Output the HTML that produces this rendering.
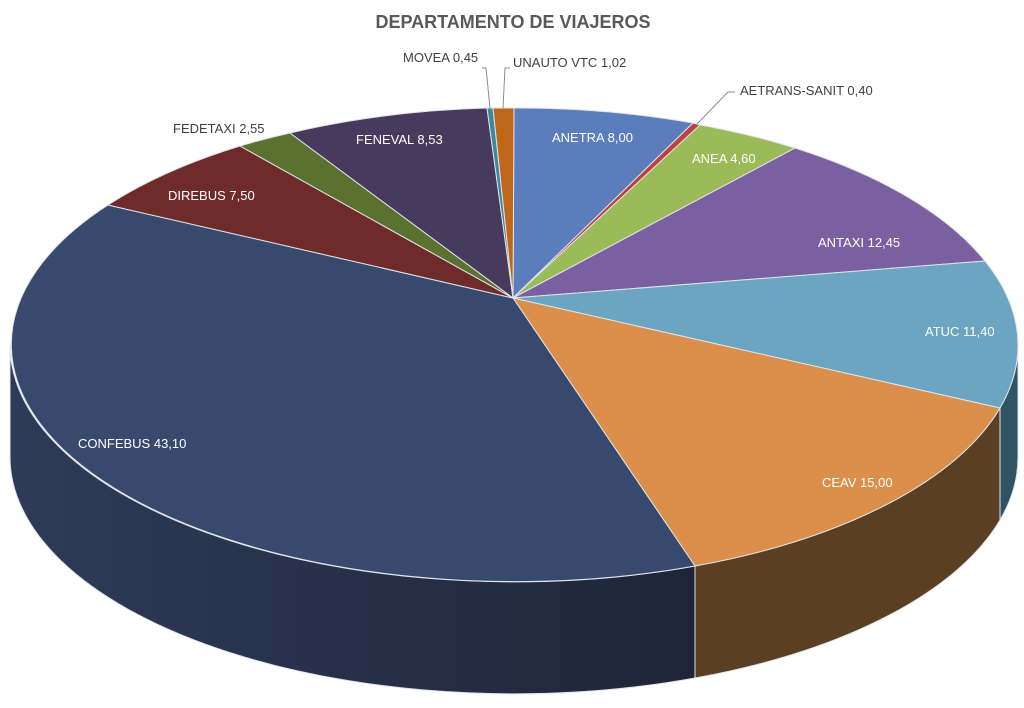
<!DOCTYPE html>
<html><head><meta charset="utf-8"><style>
html,body{margin:0;padding:0;background:#fff;}
svg{display:block;font-family:"Liberation Sans",sans-serif;}
</style></head><body>
<svg width="1024" height="708" viewBox="0 0 1024 708" xmlns="http://www.w3.org/2000/svg">
<defs>
<linearGradient id="gc" x1="0" y1="0" x2="1" y2="0">
<stop offset="0" stop-color="#2e3b58"/><stop offset="1" stop-color="#1e2538"/>
</linearGradient>
</defs>
<rect width="1024" height="708" fill="#fff"/>
<text x="513" y="28" text-anchor="middle" font-size="18" font-weight="bold" fill="#595959">DEPARTAMENTO DE VIAJEROS</text>
<g stroke="#dfe3ea" stroke-width="1">
<path d="M1018,345 A504,237 0 0 1 1000,408 L1000,520 A504,237 0 0 0 1018,457 Z" fill="#2f5565"/>
<path d="M1000,408 A504,237 0 0 1 695,566 L695,678 A504,237 0 0 0 1000,520 Z" fill="#5b3f22"/>
<path d="M695,566 A504,237 0 0 1 10,345 L10,457 A504,237 0 0 0 695,678 Z" fill="url(#gc)"/>
<path d="M513,298 L514,108 A504,237 0 0 1 693,123 Z" fill="#5b7dbc"/>
<path d="M513,298 L693,123 A504,237 0 0 1 700,125 Z" fill="#b9413f"/>
<path d="M513,298 L700,125 A504,237 0 0 1 795,148 Z" fill="#9bbb59"/>
<path d="M513,298 L795,148 A504,237 0 0 1 985,261 Z" fill="#7a60a0"/>
<path d="M513,298 L985,261 A504,237 0 0 1 1000,408 Z" fill="#6ba5c1"/>
<path d="M513,298 L1000,408 A504,237 0 0 1 695,566 Z" fill="#db8f4a"/>
<path d="M513,298 L695,566 A504,237 0 0 1 108,205 Z" fill="#374a6e"/>
<path d="M513,298 L108,205 A504,237 0 0 1 240,146 Z" fill="#6f2b2a"/>
<path d="M513,298 L240,146 A504,237 0 0 1 290,133 Z" fill="#5a7130"/>
<path d="M513,298 L290,133 A504,237 0 0 1 487,108 Z" fill="#473a5d"/>
<path d="M513,298 L487,108 A504,237 0 0 1 493,108 Z" fill="#3f86a0"/>
<path d="M513,298 L493,108 A504,237 0 0 1 514,108 Z" fill="#c0661a"/>
</g>
<g font-size="13" fill="#fff">
<text x="552" y="142">ANETRA 8,00</text>
<text x="692" y="163">ANEA 4,60</text>
<text x="818" y="247">ANTAXI 12,45</text>
<text x="925" y="336">ATUC 11,40</text>
<text x="822" y="487">CEAV 15,00</text>
<text x="78" y="448">CONFEBUS 43,10</text>
<text x="168" y="200">DIREBUS 7,50</text>
<text x="356" y="144">FENEVAL 8,53</text>
</g>
<g font-size="13" fill="#404040">
<text x="403" y="62">MOVEA 0,45</text>
<text x="513" y="67">UNAUTO VTC 1,02</text>
<text x="740" y="95">AETRANS-SANIT 0,40</text>
<text x="173" y="133">FEDETAXI 2,55</text>
</g>
<g stroke="#8c8c8c" stroke-width="1" fill="none">
<path d="M490,108 L486,68 L482,68"/>
<path d="M503,108 L505,68 L510,68"/>
<path d="M697,124 L728,92 L735,92"/>
</g>
</svg>
</body></html>
